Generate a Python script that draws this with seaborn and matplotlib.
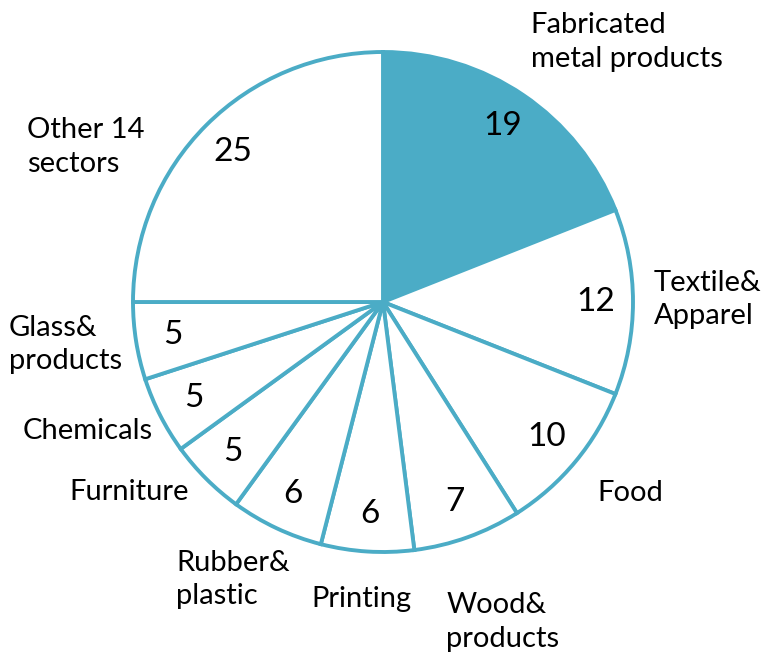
import matplotlib
matplotlib.use("Agg")
import matplotlib.pyplot as plt
import seaborn as sns

sns.set_theme(style="white")
plt.rcParams['font.family'] = ['Lato', 'DejaVu Sans']

# Data
sectors = ["Fabricated\nmetal products", "Textile&\nApparel", "Food", "Wood&\nproducts",
           "Printing", "Rubber&\nplastic", "Furniture", "Chemicals", "Glass&\nproducts",
           "Other 14\nsectors"]
values = [19, 12, 10, 7, 6, 6, 5, 5, 5, 25]

# label positions (centre of label, in pie-radius units)
label_pos = [(0.975, 1.04), (1.30, 0.01), (0.99, -0.765), (0.48, -1.28),
             (-0.088, -1.19), (-0.60, -1.11), (-1.015, -0.76), (-1.18, -0.515),
             (-1.27, -0.17), (-1.19, 0.62)]

accent = "#4BACC6"
colors = [accent] + ["white"] * (len(values) - 1)

fig = plt.figure(figsize=(7.62, 6.57), dpi=100)
ax = fig.add_axes([0, 0, 1, 1])
wedges, texts, autotexts = ax.pie(
    values, labels=sectors, colors=colors, startangle=90, counterclock=False,
    autopct=lambda p: f"{p:.0f}", pctdistance=0.85, labeldistance=1.25,
    wedgeprops=dict(edgecolor=accent, linewidth=2.8),
    textprops=dict(fontsize=19, color="black"))

for t, (x, y) in zip(texts, label_pos):
    t.set_position((x, y))
    t.set_ha("center")
    t.set_va("center")
    t.set_multialignment("left")
    t.set_fontsize(21)
    t.set_linespacing(1.38)
for t in autotexts:
    t.set_fontsize(24)

ax.set_xlim(-383 / 250, (762 - 383) / 250)
ax.set_ylim(-(657 - 302) / 250, 302 / 250)
ax.set_aspect("equal")
ax.axis("off")
fig.savefig("out.png", dpi=100)
